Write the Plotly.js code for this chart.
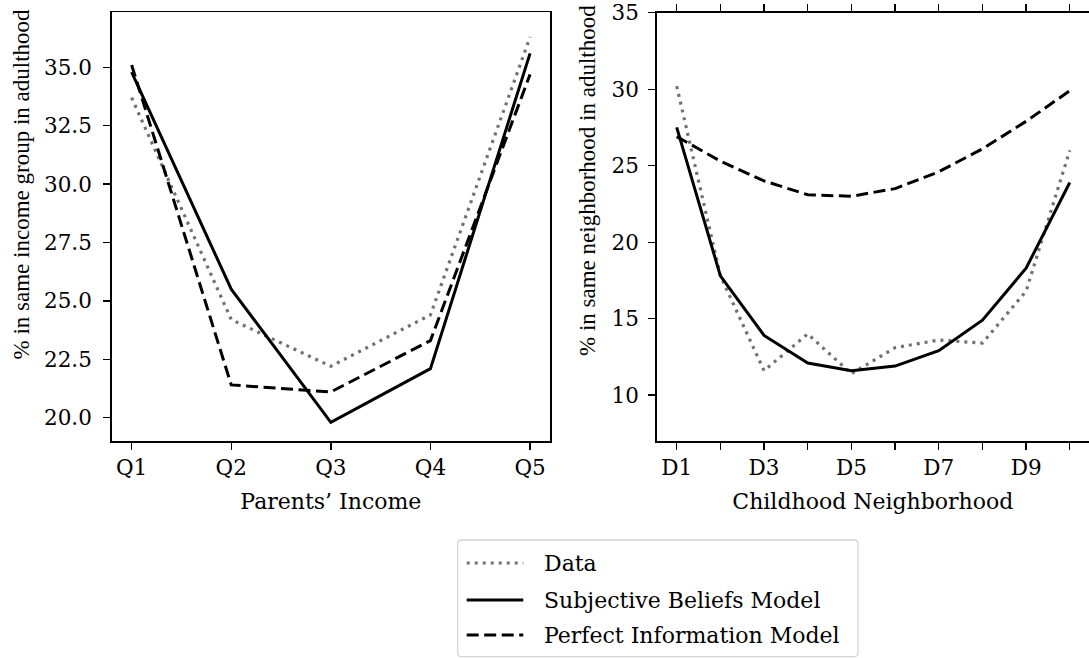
<!DOCTYPE html>
<html>
<head>
<meta charset="utf-8">
<script src="https://cdn.plot.ly/plotly-3.0.1.min.js"></script>
<style>html,body{margin:0;padding:0;background:#fff;}#chart{width:1089px;height:658px;}</style>
</head>
<body>
<div id="chart"></div>
<script>
// Left panel: parents' income quintiles
const quintiles = ['Q1', 'Q2', 'Q3', 'Q4', 'Q5'];
const incomeData = [33.7, 24.2, 22.2, 24.4, 36.3];
const incomeSubjective = [34.8, 25.5, 19.8, 22.1, 35.6];
const incomePerfect = [35.1, 21.4, 21.1, 23.3, 34.7];

// Right panel: childhood neighborhood deciles
const deciles = ['D1', 'D2', 'D3', 'D4', 'D5', 'D6', 'D7', 'D8', 'D9', 'D10'];
const decileTickText = ['D1', '', 'D3', '', 'D5', '', 'D7', '', 'D9', ''];
const hoodData = [30.2, 17.8, 11.6, 14.0, 11.4, 13.1, 13.6, 13.4, 16.8, 26.0];
const hoodSubjective = [27.5, 17.8, 13.9, 12.1, 11.6, 11.9, 12.9, 14.9, 18.3, 23.9];
const hoodPerfect = [26.9, 25.3, 24.0, 23.1, 23.0, 23.5, 24.6, 26.1, 27.9, 29.9];

const seriesNames = ['Data', 'Subjective Beliefs Model', 'Perfect Information Model'];

const FONT_H = 'DejaVu Serif, serif';
const FONT_V = 'Liberation Serif, serif';
const styles = [
  {color: '#717171', width: 3.2, dash: '3px,5px'},
  {color: '#000000', width: 3, dash: 'solid'},
  {color: '#000000', width: 3, dash: '12px,5.5px'}
];

const traces = [];
[incomeData, incomeSubjective, incomePerfect].forEach((ys, i) => {
  traces.push({x: quintiles, y: ys, type: 'scatter', mode: 'lines', name: seriesNames[i],
    line: styles[i], xaxis: 'x', yaxis: 'y', showlegend: false});
});
[hoodData, hoodSubjective, hoodPerfect].forEach((ys, i) => {
  traces.push({x: deciles, y: ys, type: 'scatter', mode: 'lines', name: seriesNames[i],
    line: styles[i], xaxis: 'x2', yaxis: 'y2', showlegend: false});
});

const W = 1089, H = 658;
const px = v => v / W;
const py = v => 1 - v / H;

const axisCommon = {
  showgrid: false, zeroline: false, showline: true, linecolor: '#000', linewidth: 1.5,
  ticks: 'outside', ticklen: 7, tickwidth: 1.3, tickcolor: '#000',
  tickfont: {family: FONT_H, size: 21.5, color: '#000'}
};

// Legend (drawn as shapes + text)
const legendBox = {x0: 457.7, x1: 858, y0: 540, y1: 656.7};
const legendRows = [563, 600, 635];
const shapes = [];
const annotations = [];
(function () {
  const r = 4, b = legendBox;
  const P = (x, y) => px(x) + ',' + py(y);
  const path = 'M' + P(b.x0 + r, b.y0) + ' L' + P(b.x1 - r, b.y0) +
    ' Q' + P(b.x1, b.y0) + ' ' + P(b.x1, b.y0 + r) +
    ' L' + P(b.x1, b.y1 - r) + ' Q' + P(b.x1, b.y1) + ' ' + P(b.x1 - r, b.y1) +
    ' L' + P(b.x0 + r, b.y1) + ' Q' + P(b.x0, b.y1) + ' ' + P(b.x0, b.y1 - r) +
    ' L' + P(b.x0, b.y0 + r) + ' Q' + P(b.x0, b.y0) + ' ' + P(b.x0 + r, b.y0) + ' Z';
  shapes.push({type: 'path', xref: 'paper', yref: 'paper', path: path,
    fillcolor: '#ffffff', line: {color: '#d4d4d4', width: 1.3}});
})();
seriesNames.forEach((name, i) => {
  shapes.push({type: 'line', xref: 'paper', yref: 'paper',
    x0: px(466.7), x1: px(523.3), y0: py(legendRows[i]), y1: py(legendRows[i]),
    line: styles[i]});
  annotations.push({xref: 'paper', yref: 'paper', x: px(542), y: py(legendRows[i]),
    xanchor: 'left', yanchor: 'middle', text: name, showarrow: false,
    font: {family: FONT_H, size: 22, color: '#000'}});
});

// Y axis titles (placed as in reference)
annotations.push({xref: 'paper', yref: 'paper', x: px(21.5), y: py(184), xanchor: 'center', yanchor: 'middle',
  text: '% in same income group in adulthood', textangle: -90, showarrow: false,
  font: {family: FONT_V, size: 23, color: '#000'}});
annotations.push({xref: 'paper', yref: 'paper', x: px(587), y: py(181), xanchor: 'center', yanchor: 'middle',
  text: '% in same neighborhood in adulthood', textangle: -90, showarrow: false,
  font: {family: FONT_V, size: 23, color: '#000'}});

const layout = {
  width: W, height: H,
  margin: {l: 0, r: 0, t: 0, b: 0},
  paper_bgcolor: '#fff', plot_bgcolor: '#fff',
  font: {family: FONT_H, size: 22, color: '#000'},
  showlegend: false,
  xaxis: Object.assign({}, axisCommon, {
    domain: [px(111.7), px(550)], anchor: 'y', mirror: true,
    type: 'category', range: [-0.2, 4.2],
    title: {text: 'Parents’ Income', font: {family: FONT_H, size: 22}, standoff: 14}
  }),
  yaxis: Object.assign({}, axisCommon, {
    domain: [py(441), py(12)], anchor: 'x', mirror: true,
    range: [19.0, 37.37], tickvals: [20, 22.5, 25, 27.5, 30, 32.5, 35],
    ticktext: ['20.0', '22.5', '25.0', '27.5', '30.0', '32.5', '35.0'],
    ticklabelstandoff: 7
  }),
  xaxis2: Object.assign({}, axisCommon, {
    domain: [px(656.7), 1], anchor: 'y2', mirror: 'allticks',
    type: 'category', range: [-0.458, 9.44],
    tickmode: 'array', tickvals: deciles, ticktext: decileTickText,
    title: {text: 'Childhood Neighborhood', font: {family: FONT_H, size: 22}, standoff: 14}
  }),
  yaxis2: Object.assign({}, axisCommon, {
    domain: [py(441), py(12.7)], anchor: 'x2',
    range: [7.0, 35.0], tickvals: [10, 15, 20, 25, 30, 35],
    ticklabelstandoff: 5
  }),
  shapes: shapes,
  annotations: annotations
};

Plotly.newPlot('chart', traces, layout, {staticPlot: true, displayModeBar: false});
</script>
</body>
</html>
